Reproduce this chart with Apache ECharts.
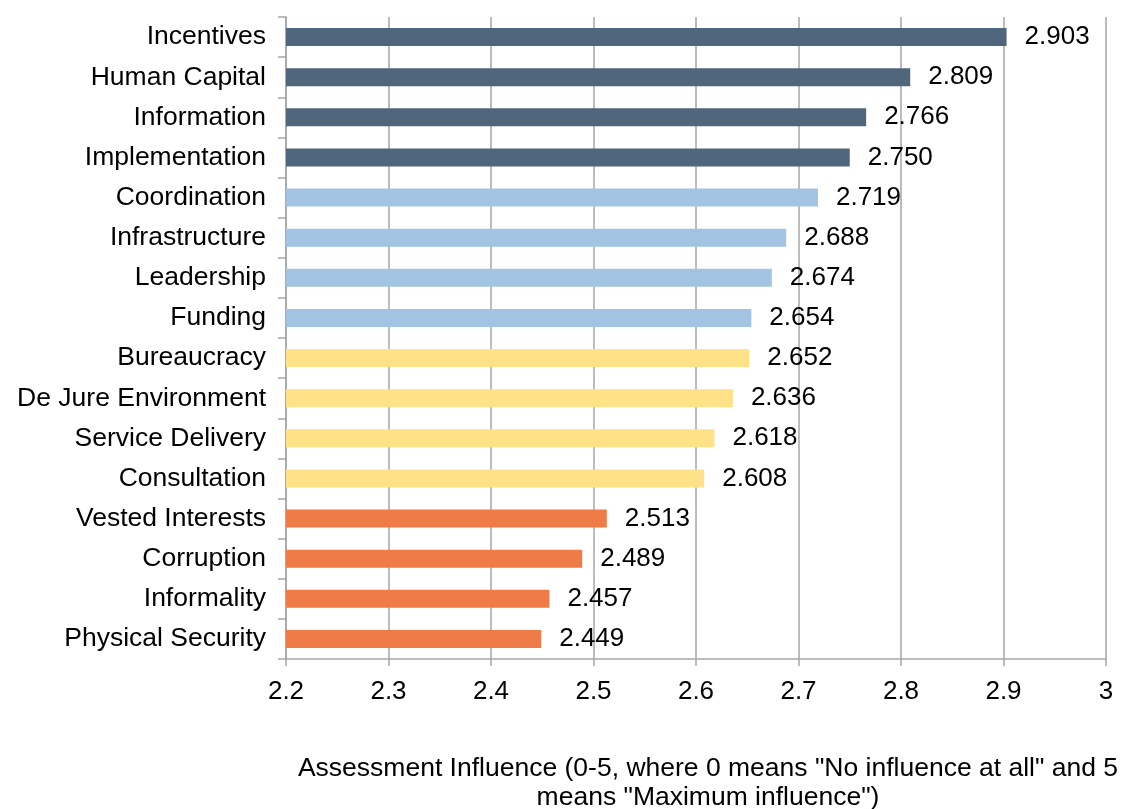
<!DOCTYPE html>
<html>
<head>
<meta charset="utf-8">
<script src="https://cdn.jsdelivr.net/npm/echarts@6/dist/echarts.min.js"></script>
<style>html,body{margin:0;padding:0;background:#fff}#c{width:1121px;height:809px}</style>
</head>
<body>
<div id="c"></div>
<script>
const categories = ["Incentives","Human Capital","Information","Implementation","Coordination","Infrastructure","Leadership","Funding","Bureaucracy","De Jure Environment","Service Delivery","Consultation","Vested Interests","Corruption","Informality","Physical Security"];
const values = [2.903,2.809,2.766,2.750,2.719,2.688,2.674,2.654,2.652,2.636,2.618,2.608,2.513,2.489,2.457,2.449];
const tiers = [0,0,0,0,1,1,1,1,2,2,2,2,3,3,3,3];
const xTicks = {min:2.2, max:3.0, interval:0.1};
const axisTitle = 'Assessment Influence (0-5, where 0 means "No influence at all" and 5\nmeans "Maximum influence")';

const palette = ['#50667c','#a2c3e2','#ffe188','#ef7c46'];
const FONT = 'Liberation Sans, Arial, sans-serif';
const chart = echarts.init(document.getElementById('c'), null, {renderer:'canvas'});
chart.setOption({
  animation:false,
  grid:{left:286, right:15, top:17, bottom:150, containLabel:false, outerBoundsMode:'none'},
  xAxis:{
    type:'value', min:xTicks.min, max:xTicks.max, interval:xTicks.interval,
    axisLine:{show:true, lineStyle:{color:'#a6a6a6', width:1.5}},
    axisTick:{show:true, length:7, lineStyle:{color:'#a6a6a6', width:1.5}},
    splitLine:{show:true, lineStyle:{color:'#a6a6a6', width:1.5}},
    axisLabel:{margin:20, color:'#000', fontSize:26, fontFamily:FONT,
      formatter:v=>(Math.round(v*10)/10).toString()},
    name:axisTitle, nameLocation:'middle', nameGap:95,
    nameTextStyle:{color:'#000', fontSize:26.5, fontFamily:FONT, lineHeight:29, padding:[0,0,0,24]}
  },
  yAxis:{
    type:'category', data:categories, inverse:true,
    axisLine:{show:true, lineStyle:{color:'#a6a6a6', width:1.5}},
    axisTick:{show:true, length:8, lineStyle:{color:'#a6a6a6', width:1.5}},
    axisLabel:{margin:20, color:'#000', fontSize:26.5, fontFamily:FONT, padding:[4,0,0,0]},
    splitLine:{show:false}
  },
  series:[{
    type:'bar', barWidth:18,
    data:values.map((v,i)=>({value:v, itemStyle:{color:palette[tiers[i]]}})),
    label:{show:true, position:'right', distance:18, color:'#000', fontSize:26, fontFamily:FONT,
      padding:[4,0,0,0], formatter:p=>p.value.toFixed(3)}
  }]
});
</script>
</body>
</html>
